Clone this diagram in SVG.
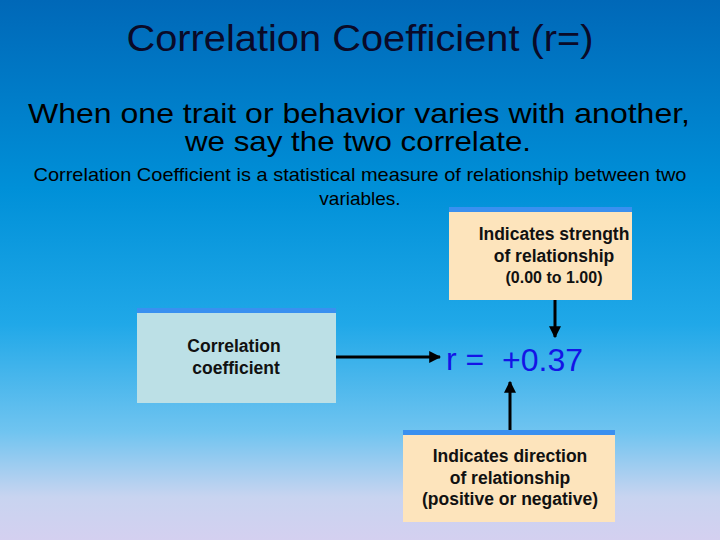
<svg xmlns="http://www.w3.org/2000/svg" width="720" height="540" viewBox="0 0 720 540">
<defs>
<linearGradient id="bg" x1="0" y1="0" x2="0" y2="1">
<stop offset="0" stop-color="#0068b8"/>
<stop offset="0.35" stop-color="#0090d8"/>
<stop offset="0.6" stop-color="#20a8e8"/>
<stop offset="0.8" stop-color="#70c4f0"/>
<stop offset="0.92" stop-color="#c8d4f0"/>
<stop offset="1" stop-color="#d4d0f0"/>
</linearGradient>
<marker id="ah" viewBox="0 0 10 10" refX="9" refY="5" markerWidth="4" markerHeight="4" orient="auto" markerUnits="strokeWidth">
<path d="M0,0 L10,5 L0,10 z" fill="#000"/>
</marker>
<style>
.t{font-family:"Liberation Sans",Arial,sans-serif;fill:#000;text-anchor:middle}
.b{font-weight:bold;font-size:17.5px;fill:#111}
.strip{fill:#3a90f0}
.line{stroke:#000;stroke-width:3;fill:none;marker-end:url(#ah)}
.r{font-family:"Liberation Sans",Arial,sans-serif;font-size:32px;fill:#1414e6}
</style>
</defs>
<rect width="720" height="540" fill="url(#bg)"/>
<text class="t" x="360" y="51" font-size="37" style="fill:#0a0a28" textLength="467" lengthAdjust="spacingAndGlyphs">Correlation Coefficient (r=)</text>
<text class="t" x="359" y="123" font-size="28" textLength="662" lengthAdjust="spacingAndGlyphs">When one trait or behavior varies with another,</text>
<text class="t" x="358" y="151" font-size="28" textLength="346" lengthAdjust="spacingAndGlyphs">we say the two correlate.</text>
<text class="t" x="360" y="181" font-size="19" textLength="653" lengthAdjust="spacingAndGlyphs">Correlation Coefficient is a statistical measure of relationship between two</text>
<text class="t" x="360" y="205" font-size="19">variables.</text>
<g id="node-coef">
<rect x="137" y="308" width="199" height="95" fill="#bce0e6"/>
<rect class="strip" x="137" y="308" width="199" height="5"/>
<text class="t b" x="234" y="352">Correlation</text>
<text class="t b" x="236" y="374">coefficient</text>
</g>
<g id="node-strength">
<rect x="449" y="207" width="183" height="93" fill="#fde4bc"/>
<rect class="strip" x="449" y="207" width="183" height="5"/>
<text class="t b" x="554" y="240">Indicates strength</text>
<text class="t b" x="554" y="262">of relationship</text>
<text class="t b" x="554" y="283" style="font-size:16px">(0.00 to 1.00)</text>
</g>
<g id="node-direction">
<rect x="403" y="430" width="212" height="92" fill="#fde4bc"/>
<rect class="strip" x="403" y="430" width="212" height="5"/>
<text class="t b" x="510" y="462">Indicates direction</text>
<text class="t b" x="510" y="484">of relationship</text>
<text class="t b" x="510" y="505">(positive or negative)</text>
</g>
<g id="node-r">
<text class="r" x="446" y="370">r =</text>
<text class="r" x="502" y="371">+0.37</text>
</g>
<g id="connectors">
<line class="line" x1="336" y1="357" x2="440" y2="357"/>
<line class="line" x1="555" y1="300" x2="555" y2="337"/>
<line class="line" x1="510" y1="430" x2="510" y2="382"/>
</g>
</svg>
